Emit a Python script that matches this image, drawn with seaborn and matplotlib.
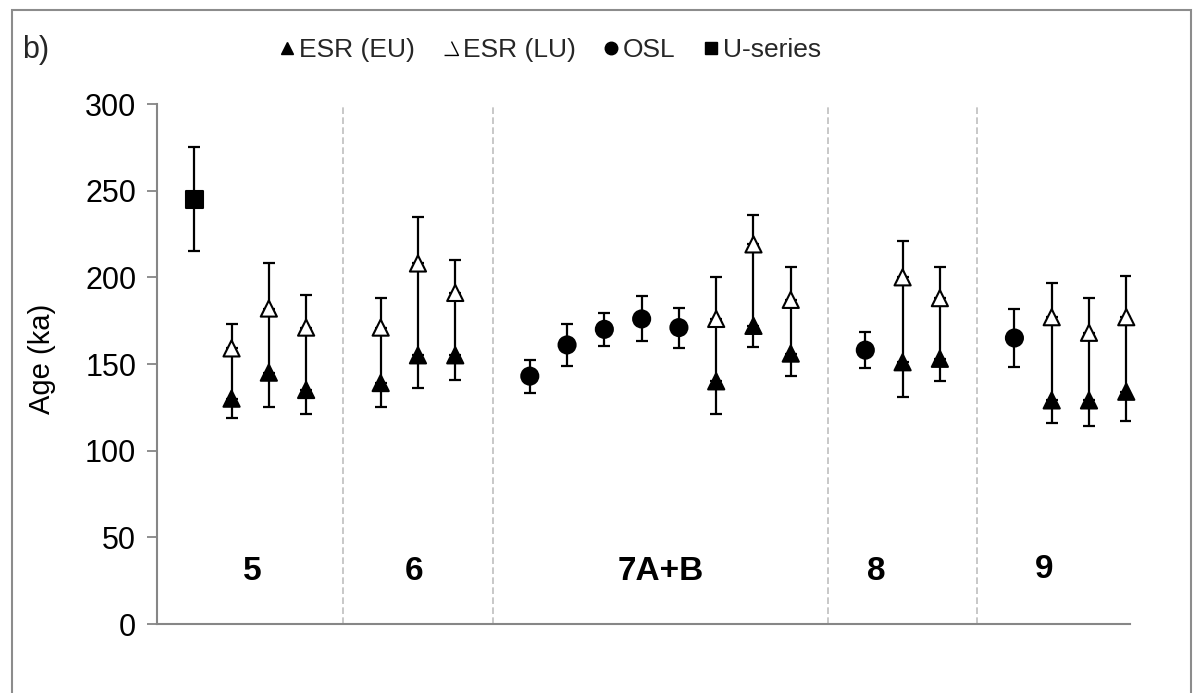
import numpy as np
import pandas as pd
import seaborn as sns
import matplotlib
matplotlib.use("Agg")
import matplotlib.pyplot as plt
from matplotlib.lines import Line2D
from matplotlib.patches import Rectangle
from matplotlib.path import Path

# Stratigraphic units, left to right
units = ["5", "6", "7A+B", "8", "9"]

# U-series age (ka) and 1-sigma error
useries_unit = ["5"]
useries_age = [245]
useries_err = [30]

# OSL ages (ka) and errors
osl_unit = ["7A+B"] * 5 + ["8", "9"]
osl_age = [143, 161, 170, 176, 171, 158, 165]
osl_err = [9.5, 12, 9.5, 13, 11.5, 10.5, 16.5]

# ESR ages: early uptake (lower bound) and linear uptake (upper bound)
esr_unit = ["5"] * 3 + ["6"] * 3 + ["7A+B"] * 3 + ["8"] * 2 + ["9"] * 3
esr_eu = [130, 145, 135, 139, 155, 155, 140, 172, 156, 151, 153, 129, 129, 134]
esr_eu_err = [11, 20, 14, 14, 19, 14, 19, 12, 13, 20, 13, 13, 15, 17]
esr_lu = [159, 182, 171, 171, 208, 191, 176, 219, 187, 200, 188, 177, 168, 177]
esr_lu_err = [14, 26, 19, 17, 27, 19, 24, 17, 19, 21, 18, 20, 20, 24]

# ---- lay the samples out in slots, one empty slot between units ----
rows, esr_rows, separators = [], [], []
slot = 1
for i, u in enumerate(units):
    if i > 0:
        separators.append(slot)
        slot += 1
    for uu, a, e in zip(useries_unit, useries_age, useries_err):
        if uu == u:
            rows.append(dict(x=slot, method="U-series", age=a, lo=e, hi=e))
            slot += 1
    for uu, a, e in zip(osl_unit, osl_age, osl_err):
        if uu == u:
            rows.append(dict(x=slot, method="OSL", age=a, lo=e, hi=e))
            slot += 1
    for uu, eu, eue, lu, lue in zip(esr_unit, esr_eu, esr_eu_err, esr_lu, esr_lu_err):
        if uu == u:
            rows.append(dict(x=slot, method="ESR (EU)", age=eu, lo=eue, hi=0))
            rows.append(dict(x=slot, method="ESR (LU)", age=lu, lo=0, hi=lue))
            esr_rows.append((slot, eu, lu))
            slot += 1
df = pd.DataFrame(rows)

sns.set_theme(style="white")
plt.rcParams["font.family"] = ["Liberation Sans", "DejaVu Sans"]

W, H = 1203, 693
fig = plt.figure(figsize=(W / 100, H / 100), dpi=100)
ax = fig.add_axes([157 / W, (H - 624) / H, (1130 - 157) / W, (624 - 104) / H])

grey = "#868686"

# unit separators
ax.vlines(separators, 0, 300, colors="#BFBFBF", linestyles=(0, (4, 2)), lw=1.2, zorder=1)

# line joining EU and LU estimates of each ESR sample
ex = [r[0] for r in esr_rows]
ax.vlines(ex, [r[1] for r in esr_rows], [r[2] for r in esr_rows],
          colors="black", lw=1.6, zorder=2)

# error bars
ax.errorbar(df["x"], df["age"], yerr=[df["lo"], df["hi"]], fmt="none",
            ecolor="black", elinewidth=1.6, capsize=4.2, capthick=1.6, zorder=2)

palette = {"ESR (EU)": "black", "ESR (LU)": "white", "OSL": "black", "U-series": "black"}
markers = {"ESR (EU)": "^", "ESR (LU)": "^", "OSL": "o", "U-series": "s"}
sizes = {"ESR (EU)": 135, "ESR (LU)": 135, "OSL": 150, "U-series": 150}
sns.scatterplot(data=df, x="x", y="age", hue="method", style="method", size="method",
                palette=palette, markers=markers, sizes=sizes, edgecolor="black",
                linewidth=1.5, legend=False, ax=ax, zorder=3, clip_on=False)

ax.set_xlim(0, 26.1)
ax.set_ylim(0, 300)
ax.set_yticks(np.arange(0, 301, 50))
ax.set_xticks([])
ax.set_xlabel("")
ax.set_ylabel("Age (ka)", fontsize=21, color="black")
ax.yaxis.set_label_coords(-0.104, 0.51)
ax.tick_params(axis="y", which="major", direction="out", length=7, width=1.3,
               color=grey, labelsize=22, labelcolor="black", pad=8, left=True)
for side in ["top", "right"]:
    ax.spines[side].set_visible(False)
for side in ["left", "bottom"]:
    ax.spines[side].set_color(grey)
    ax.spines[side].set_linewidth(1.5)

# unit names
label_pos = [(2.55, 30), (6.9, 30), (13.5, 30), (19.3, 30), (23.8, 31.5)]
for name, (lx, ly) in zip(units, label_pos):
    ax.text(lx, ly, name, ha="center", va="center", fontsize=24, fontweight="bold",
            color="black")

# legend; the open-triangle key is drawn without its left edge
open_tri = Path([(-1, -1), (1, -1), (0, 1)], [Path.MOVETO, Path.LINETO, Path.LINETO])
handles = [
    Line2D([], [], ls="none", marker="^", ms=9, mfc="black", mec="black"),
    Line2D([], [], ls="none", marker=open_tri, ms=10, mfc="none", mec="black", mew=1.0),
    Line2D([], [], ls="none", marker="o", ms=9, mfc="black", mec="black"),
    Line2D([], [], ls="none", marker="s", ms=9, mfc="black", mec="black"),
]
fig.legend(handles, ["ESR (EU)", "ESR (LU)", "OSL", "U-series"], loc="center",
           bbox_to_anchor=(551 / W, 1 - 50 / H), ncol=4, frameon=False,
           fontsize=19, handlelength=0.5, handletextpad=0.2, columnspacing=1.1)

fig.text(22 / W, 1 - 50 / H, "b)", fontsize=22, va="center", ha="left")

# outer frame
fig.patches.append(Rectangle((12 / W, -0.05), (1191 - 12) / W, 1.05 - 10 / H,
                             transform=fig.transFigure, fill=False,
                             edgecolor="#8C8C8C", lw=1.5))

fig.savefig("out.png", dpi=100)
